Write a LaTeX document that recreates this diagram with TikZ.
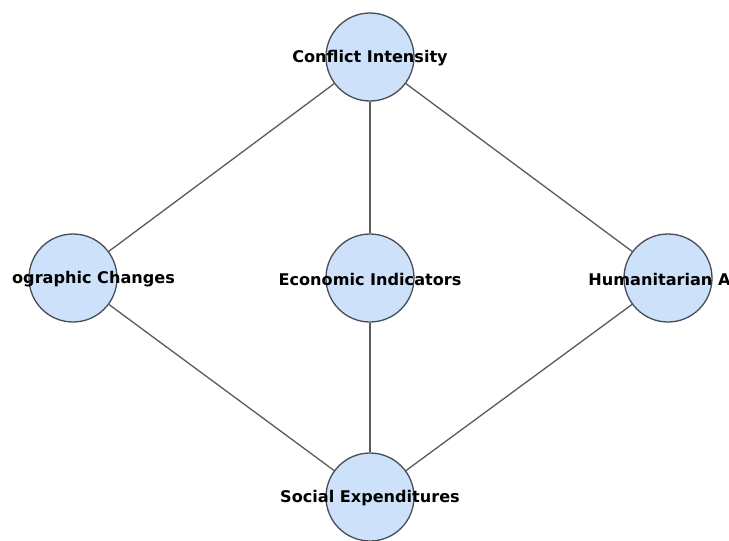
\documentclass[tikz,border=0pt]{standalone}
\usepackage{fontspec}
\setmainfont{DejaVu Sans}
\definecolor{nodefill}{RGB}{205,226,250}
\definecolor{nodeedge}{RGB}{70,75,85}
\definecolor{edgecol}{RGB}{90,90,90}
\begin{document}
\begin{tikzpicture}[x=1pt,y=-1pt,
  circ/.style={circle,draw=nodeedge,fill=nodefill,line width=1.3pt,minimum size=88pt,inner sep=0pt},
  lab/.style={font=\fontsize{16.1}{19}\selectfont\bfseries,text=black,inner sep=0pt,yshift=-1.5pt},
  link/.style={draw=edgecol,line width=1.3pt}]
\path[use as bounding box,clip] (0,0) rectangle (729,541);
\fill[white] (0,0) rectangle (729,541);
\node[circ] (ci) at (370,57) {};
\node[circ] (dc) at (73,278) {};
\node[circ] (ei) at (370,278) {};
\node[circ] (ha) at (668,278) {};
\node[circ] (se) at (370,497) {};
\draw[link] (ci) -- (dc);
\draw[link] (ci) -- (ei);
\draw[link] (ci) -- (ha);
\draw[link] (dc) -- (se);
\draw[link] (ei) -- (se);
\draw[link] (ha) -- (se);
\node[lab] (tci) at (ci.center) {Conflict Intensity};
\begin{scope}
\clip (12.3,200) rectangle (729,360);
\node[lab] (tdc) at (dc.center) {Demographic Changes};
\end{scope}
\node[lab] (tei) at (ei.center) {Economic Indicators};
\node[lab] (tha) at (ha.center) {Humanitarian Aid};
\node[lab] (tse) at (se.center) {Social Expenditures};
\end{tikzpicture}
\end{document}
